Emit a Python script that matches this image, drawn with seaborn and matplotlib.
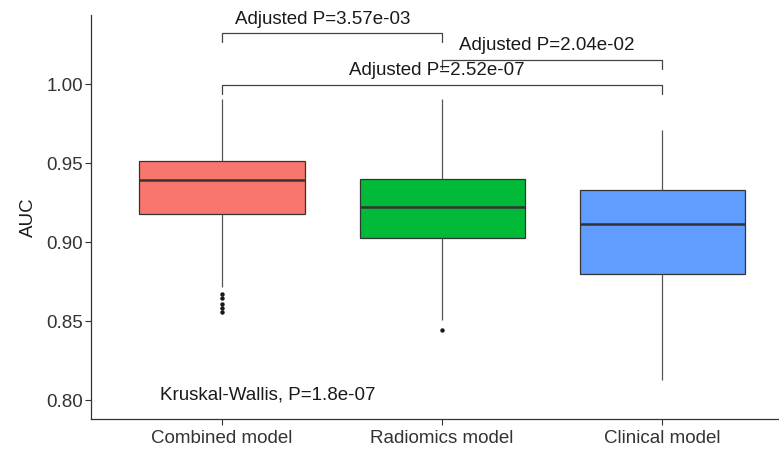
import numpy as np
import pandas as pd
import matplotlib
matplotlib.use("Agg")
import matplotlib.pyplot as plt
import seaborn as sns

# ---- data ----
categories = ["Combined model", "Radiomics model", "Clinical model"]
colors = ["#F8766D", "#00BA38", "#619CFF"]
whisker_low = [0.8715, 0.8506, 0.8127]
q1 = [0.9180, 0.9025, 0.8797]
median = [0.9392, 0.9222, 0.9114]
q3 = [0.9515, 0.9400, 0.9329]
whisker_high = [0.9905, 0.9905, 0.9709]
low_outliers = [[0.8668, 0.8648, 0.8606, 0.8585, 0.8560], [0.8443], []]

comparisons = [(0, 1), (1, 2), (0, 2)]
comparison_labels = ["Adjusted P=3.57e-03", "Adjusted P=2.04e-02", "Adjusted P=2.52e-07"]
bracket_levels = [1.0320, 1.0152, 0.9994]
label_shift = [-0.041, -0.023, -0.023]
kruskal_label = "Kruskal-Wallis, P=1.8e-07"
y_ticks = [0.80, 0.85, 0.90, 0.95, 1.00]

# build samples whose quartiles/whiskers equal the values read above
rows = []
for i, cat in enumerate(categories):
    outl = low_outliers[i]
    k = 6
    vals = list(outl) + [whisker_low[i]] * (k - len(outl))
    vals += [q1[i]] + [median[i]] * (k - 1)
    vals += [median[i]] + [median[i]] * (k - 1)
    vals += [q3[i]] + [q3[i]] * (k - 1) + [whisker_high[i]]
    for v in vals:
        rows.append({"model": cat, "AUC": v})
df = pd.DataFrame(rows)

sns.set_theme(style="white")
plt.rcParams["font.family"] = ["Liberation Sans", "DejaVu Sans"]

fig = plt.figure(figsize=(7.79, 4.49), dpi=100)
ax = fig.add_axes([91 / 779, 30 / 449, 1 - 91 / 779, (419 - 15) / 449])

edge = "#333333"
sns.boxplot(
    data=df, x="model", y="AUC", hue="model", order=categories,
    hue_order=categories, palette=colors, width=0.75, legend=False,
    saturation=1, linewidth=0.9, linecolor=edge, whis=1.5, ax=ax,
    medianprops=dict(color=edge, linewidth=1.8),
    whiskerprops=dict(color="#555555", linewidth=0.9),
    capprops=dict(linewidth=0),
    flierprops=dict(marker="o", markersize=3.2, markerfacecolor="#1a1a1a",
                    markeredgecolor="#1a1a1a", markeredgewidth=0),
)

# comparison brackets
tick_drop = 0.0055
for (a, b), lab, lvl, sh in zip(comparisons, comparison_labels, bracket_levels, label_shift):
    ax.plot([a, a, b, b], [lvl - tick_drop, lvl, lvl, lvl - tick_drop],
            color="#444444", linewidth=0.9, clip_on=False)
    ax.text((a + b) / 2 + sh, lvl + 0.0035, lab, ha="center", va="bottom",
            fontsize=13.5, color="#1a1a1a")

ax.text(-0.28, 0.803, kruskal_label, ha="left", va="center",
        fontsize=13.5, color="#1a1a1a")

ax.set_xlim(-0.595, 2.53)
ax.set_ylim(0.788, 1.0437)
ax.set_yticks(y_ticks)
ax.set_yticklabels([f"{t:.2f}" for t in y_ticks])
ax.set_xlabel("")
ax.set_ylabel("AUC", fontsize=13.5, color="#1a1a1a", labelpad=7)

for s in ["top", "right"]:
    ax.spines[s].set_visible(False)
for s in ["left", "bottom"]:
    ax.spines[s].set_color("#333333")
    ax.spines[s].set_linewidth(0.9)
ax.tick_params(axis="both", which="both", direction="out", length=4,
               width=0.8, color="#333333", labelsize=13.5, labelcolor="#333333",
               bottom=True, left=True, pad=1.8)
ax.tick_params(axis="x", pad=4)

fig.savefig("out.png", dpi=100)
